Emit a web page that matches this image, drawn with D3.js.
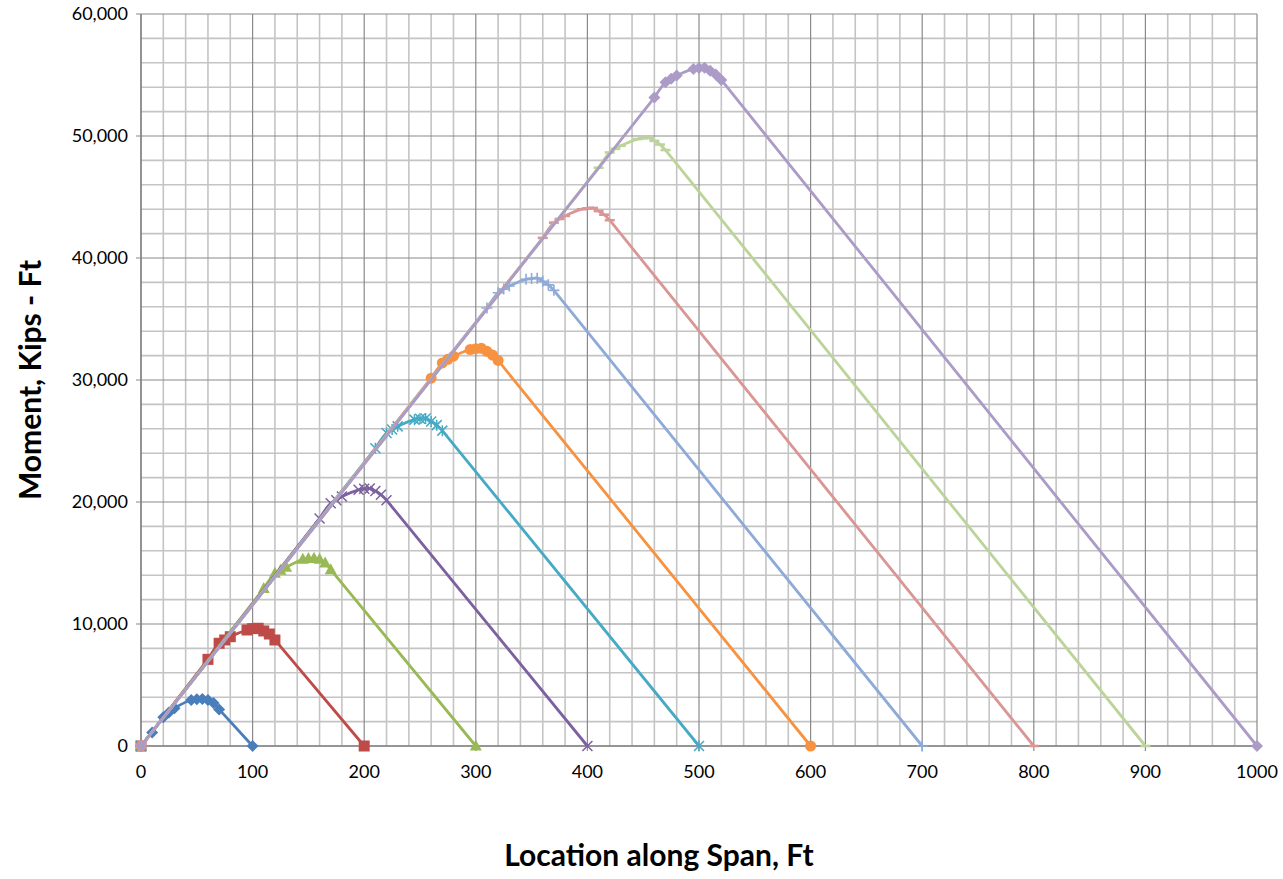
<!DOCTYPE html>
<html>
<head>
<meta charset="utf-8">
<script src="https://cdn.jsdelivr.net/npm/d3@7"></script>
<style>
html,body{margin:0;padding:0;background:#fff;}
svg{display:block;}
</style>
</head>
<body>
<svg id="chart" width="1283" height="879"></svg>
<script>
// ---------- data ----------
const xTicks = [0,100,200,300,400,500,600,700,800,900,1000];
const yTicks = [0,10000,20000,30000,40000,50000,60000];

const s1x = [0,10,20,25,30,45,50,55,60,65,70,100];
const s1y = [0,1100,2350,2750,3100,3770,3830,3850,3770,3520,3000,0];
const s2x = [0,60,70,75,80,95,100,105,110,115,120,200];
const s2y = [0,7100,8420,8690,8960,9510,9620,9650,9430,9180,8690,0];
const s3x = [0,110,120,125,130,145,150,155,160,165,170,300];
const s3y = [0,12900,14150,14400,14650,15300,15370,15380,15300,15000,14450,0];
const s4x = [0,160,170,175,180,195,200,205,210,215,220,400];
const s4y = [0,18650,19900,20150,20450,21000,21080,21100,20900,20600,20150,0];
const s5x = [0,210,220,225,230,245,250,255,260,265,270,500];
const s5y = [0,24400,25650,25950,26200,26750,26820,26850,26600,26300,25850,0];
const s6x = [0,260,270,275,280,295,300,305,310,315,320,600];
const s6y = [0,30150,31400,31700,31950,32500,32570,32600,32350,32050,31600,0];
const s7x = [0,310,320,325,330,345,350,355,360,365,370,700];
const s7y = [0,35900,37150,37450,37700,38250,38320,38350,38100,37800,37350,0];
const s8x = [0,360,370,375,380,395,400,405,410,415,420,800];
const s8y = [0,41650,42900,43200,43450,44000,44070,44100,43850,43550,43100,0];
const s9x = [0,410,420,425,430,445,450,455,460,465,470,900];
const s9y = [0,47400,48650,48950,49200,49750,49820,49850,49600,49300,48850,0];
const s10x = [0,460,470,475,480,495,500,505,510,515,520,1000];
const s10y = [0,53150,54400,54700,54950,55500,55570,55600,55350,55050,54600,0];

const seriesX = [s1x,s2x,s3x,s4x,s5x,s6x,s7x,s8x,s9x,s10x];
const seriesY = [s1y,s2y,s3y,s4y,s5y,s6y,s7y,s8y,s9y,s10y];
const colors = ["#4a7ebb","#be4b48","#98b954","#7d60a0","#46aac5","#f69240","#8eaad8","#d99694","#bcd49a","#ab9bc6"];
const markers = ["diamond","square","triangle","x","star","circle","plus","dash","dash","diamond"];

// ---------- layout ----------
const svg = d3.select("#chart");
const L = 141, R = 1257, T = 14, B = 746;
const x = d3.scaleLinear().domain([0,1000]).range([L,R]);
const y = d3.scaleLinear().domain([0,60000]).range([B,T]);
const font = "Lato, 'Liberation Sans', sans-serif";

// grid
const g = svg.append("g");
const minorX = d3.range(0,1001,20).filter(v => v % 100 !== 0);
const minorY = d3.range(0,60001,2000).filter(v => v % 10000 !== 0);
g.selectAll(".mx").data(minorX).enter().append("line")
  .attr("x1",d=>x(d)).attr("x2",d=>x(d)).attr("y1",T).attr("y2",B)
  .attr("stroke","#c4c4c4").attr("stroke-width",1.6);
g.selectAll(".my").data(minorY).enter().append("line")
  .attr("y1",d=>y(d)).attr("y2",d=>y(d)).attr("x1",L).attr("x2",R)
  .attr("stroke","#c4c4c4").attr("stroke-width",1.6);
g.selectAll(".Mx").data(xTicks).enter().append("line")
  .attr("x1",d=>x(d)).attr("x2",d=>x(d)).attr("y1",T).attr("y2",B+5)
  .attr("stroke","#8a8a8a").attr("stroke-width",1.2);
g.selectAll(".My").data(yTicks).enter().append("line")
  .attr("y1",d=>y(d)).attr("y2",d=>y(d)).attr("x1",L-5).attr("x2",R)
  .attr("stroke","#8a8a8a").attr("stroke-width",1.2);

// axes lines
svg.append("line").attr("x1",L).attr("x2",L).attr("y1",T).attr("y2",B).attr("stroke","#868686").attr("stroke-width",1.5);
svg.append("line").attr("x1",L).attr("x2",R).attr("y1",B).attr("y2",B).attr("stroke","#868686").attr("stroke-width",1.5);

// tick labels
const fmt = d3.format(",");
svg.selectAll(".yl").data(yTicks).enter().append("text")
  .attr("x",L-13).attr("y",d=>y(d)+6)
  .attr("text-anchor","end").attr("font-family",font).attr("font-size",18).attr("fill","#000")
  .text(d=>fmt(d));
svg.selectAll(".xl").data(xTicks).enter().append("text")
  .attr("x",d=>x(d)).attr("y",B+32)
  .attr("text-anchor","middle").attr("font-family",font).attr("font-size",18).attr("fill","#000")
  .text(d=>d);

// titles
svg.append("text").attr("x",659).attr("y",866).attr("text-anchor","middle")
  .attr("font-family",font).attr("font-weight","bold").attr("font-size",30).text("Location along Span, Ft");
svg.append("text").attr("transform","translate(41,380) rotate(-90)").attr("text-anchor","middle")
  .attr("font-family",font).attr("font-weight","bold").attr("font-size",30).text("Moment, Kips - Ft");

// series: straight rise and fall, smoothed through the peak points
const smooth = d3.line().x(d=>x(d[0])).y(d=>y(d[1])).curve(d3.curveCatmullRom.alpha(0.5));
function seriesPath(pts){
  const n = pts.length;
  const inner = smooth(pts.slice(1, n-1));
  return `M${x(pts[0][0])},${y(pts[0][1])}L` + inner.slice(1) + `L${x(pts[n-1][0])},${y(pts[n-1][1])}`;
}
function drawMarker(sel, type, c){
  if(type==="diamond"){
    sel.append("path").attr("d","M0,-6L6,0L0,6L-6,0Z").attr("fill",c);
  } else if(type==="square"){
    sel.append("rect").attr("x",-5.5).attr("y",-5.5).attr("width",11).attr("height",11).attr("fill",c);
  } else if(type==="triangle"){
    sel.append("path").attr("d","M0,-6.5L6,4.5L-6,4.5Z").attr("fill",c);
  } else if(type==="circle"){
    sel.append("circle").attr("r",5.5).attr("fill",c);
  } else if(type==="x"){
    sel.append("path").attr("d","M-5,-5L5,5M-5,5L5,-5").attr("stroke",c).attr("stroke-width",1.5).attr("fill","none");
  } else if(type==="star"){
    sel.append("path").attr("d","M-5,-5L5,5M-5,5L5,-5M0,-5.5L0,5.5").attr("stroke",c).attr("stroke-width",1.5).attr("fill","none");
  } else if(type==="plus"){
    sel.append("path").attr("d","M-5.5,0L5.5,0M0,-5.5L0,5.5").attr("stroke",c).attr("stroke-width",1.6).attr("fill","none");
  } else if(type==="dash"){
    sel.append("path").attr("d","M-5,0L5,0").attr("stroke",c).attr("stroke-width",2.6).attr("fill","none");
  }
}
seriesX.forEach((xs,i)=>{
  const pts = xs.map((v,j)=>[v, seriesY[i][j]]);
  const sg = svg.append("g");
  sg.append("path").attr("d",seriesPath(pts)).attr("fill","none")
    .attr("stroke",colors[i]).attr("stroke-width",2.8).attr("stroke-linejoin","round");
  const m = sg.selectAll("g.m").data(pts).enter().append("g")
    .attr("transform",d=>`translate(${x(d[0])},${y(d[1])})`);
  drawMarker(m, markers[i], colors[i]);
});
</script>
</body>
</html>
